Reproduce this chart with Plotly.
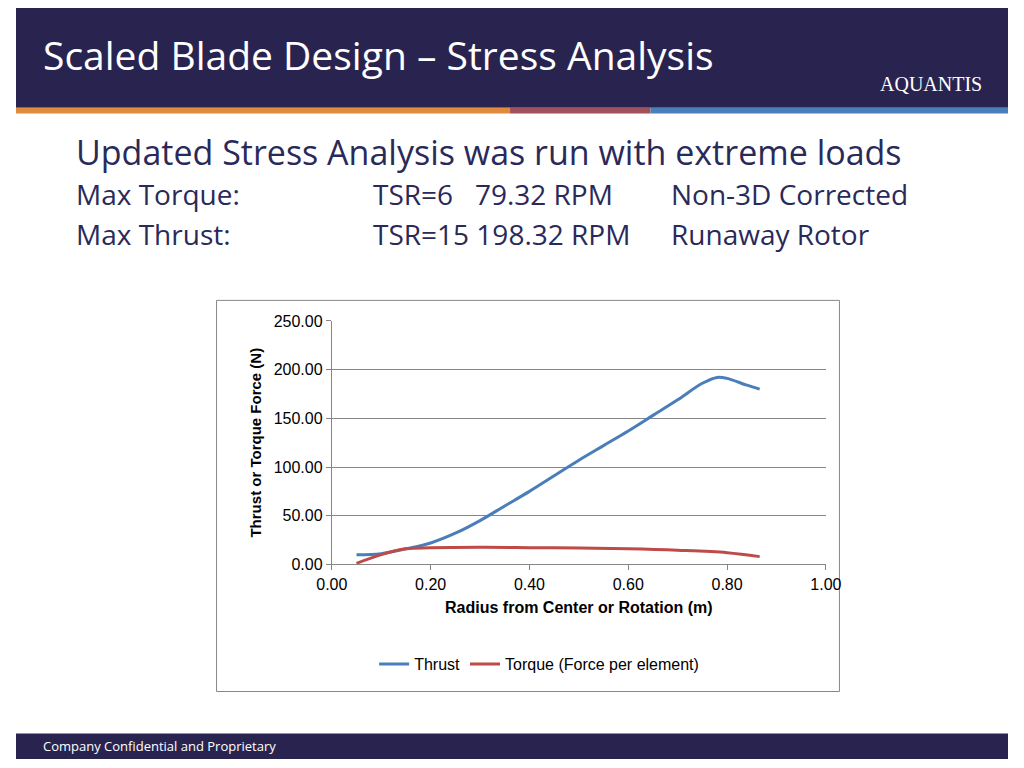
import plotly.graph_objects as go

radius = [0.05, 0.10, 0.15, 0.20, 0.25, 0.30, 0.35, 0.40, 0.45, 0.50, 0.55, 0.60, 0.65, 0.70, 0.75, 0.78, 0.80, 0.84, 0.866]
thrust = [10, 11, 16, 22, 32, 45, 60, 75, 91, 107, 122, 137, 153, 169, 186, 192, 191, 184, 180]
torque_r = [0.05, 0.10, 0.15, 0.20, 0.30, 0.40, 0.50, 0.60, 0.70, 0.80, 0.866]
torque = [1, 10, 16, 17, 17.5, 17.2, 16.8, 16, 14.5, 12, 8]

W, H = 1024, 768
def px(x): return x / W
def py(y): return 1 - y / H

fig = go.Figure()
fig.add_trace(go.Scatter(x=radius, y=thrust, mode="lines", name="Thrust",
                         line=dict(color="#4a7ebb", width=3, shape="spline")))
fig.add_trace(go.Scatter(x=torque_r, y=torque, mode="lines", name="Torque (Force per element)",
                         line=dict(color="#be4b48", width=3, shape="spline")))

navy = "#29244f"
shapes = [
    dict(type="rect", xref="paper", yref="paper", x0=0, x1=1, y0=py(102), y1=1, fillcolor=navy, line_width=0, layer="below"),
    dict(type="rect", xref="paper", yref="paper", x0=0, x1=px(510), y0=py(108), y1=py(102), fillcolor="#e08a3c", line_width=0),
    dict(type="rect", xref="paper", yref="paper", x0=px(510), x1=px(655), y0=py(108), y1=py(102), fillcolor="#a0505a", line_width=0),
    dict(type="rect", xref="paper", yref="paper", x0=px(655), x1=1, y0=py(108), y1=py(102), fillcolor="#4a7ebb", line_width=0),
    dict(type="rect", xref="paper", yref="paper", x0=0, x1=1, y0=0, y1=py(742), fillcolor=navy, line_width=0),
    dict(type="rect", xref="paper", yref="paper", x0=px(207), x1=px(850), y0=py(699), y1=py(299), line=dict(color="#888888", width=1), layer="below"),
]

f = "Open Sans, Lato, sans-serif"
ann = [
    dict(x=px(26), y=py(48), text="Scaled Blade Design – Stress Analysis", font=dict(size=39, color="white", family=f)),
    dict(x=px(945), y=py(78), text="AQUANTIS", font=dict(size=20, color="white", family="Liberation Serif"), xanchor="center"),
    dict(x=px(60), y=py(147), text="Updated Stress Analysis was run with extreme loads", font=dict(size=34, color="#2a2a5a", family=f)),
    dict(x=px(60), y=py(190), text="Max Torque:", font=dict(size=28, color="#2a2a5a", family=f)),
    dict(x=px(366), y=py(190), text="TSR=6   79.32 RPM", font=dict(size=28, color="#2a2a5a", family=f)),
    dict(x=px(674), y=py(190), text="Non-3D Corrected", font=dict(size=28, color="#2a2a5a", family=f)),
    dict(x=px(60), y=py(231), text="Max Thrust:", font=dict(size=28, color="#2a2a5a", family=f)),
    dict(x=px(366), y=py(231), text="TSR=15 198.32 RPM", font=dict(size=28, color="#2a2a5a", family=f)),
    dict(x=px(674), y=py(231), text="Runaway Rotor", font=dict(size=28, color="#2a2a5a", family=f)),
    dict(x=px(26), y=py(755), text="Company Confidential and Proprietary", font=dict(size=13, color="white", family=f)),
]
for a in ann:
    a.update(xref="paper", yref="paper", showarrow=False, yanchor="middle")
    a.setdefault("xanchor", "left")

fig.update_layout(
    width=W, height=H, margin=dict(l=0, r=0, t=0, b=0),
    paper_bgcolor="white", plot_bgcolor="white",
    shapes=shapes, annotations=ann,
    font=dict(family="Liberation Sans, Arial", color="#000000"),
    xaxis=dict(domain=[px(326), px(836)], range=[0, 1], dtick=0.2, tickformat=".2f",
               showgrid=False, showline=True, linecolor="#868686", ticks="outside", ticklen=5, tickcolor="#868686",
               tickfont=dict(size=16),
               title=dict(text="<b>Radius from Center or Rotation (m)</b>", font=dict(size=16), standoff=10)),
    yaxis=dict(domain=[py(569), py(320)], range=[0, 250], dtick=50, tickformat=".2f",
               gridcolor="#868686", showline=True, linecolor="#868686", ticks="outside", ticklen=5, tickcolor="#868686",
               tickfont=dict(size=16), zeroline=False,
               title=dict(text="<b>Thrust or Torque Force (N)</b>", font=dict(size=15), standoff=8)),
    legend=dict(orientation="h", x=px(540), xanchor="center", y=py(671), yanchor="middle", font=dict(size=16)),
)

fig.write_html("out.html", config={"displayModeBar": False})
html = open("out.html", encoding="utf-8").read()
html = html.replace("<head>", "<head><style>html,body{margin:0;padding:0;overflow:hidden}"
                    ".plotly-graph-div{position:fixed!important;top:0;left:0}</style>", 1)
open("out.html", "w", encoding="utf-8").write(html)
